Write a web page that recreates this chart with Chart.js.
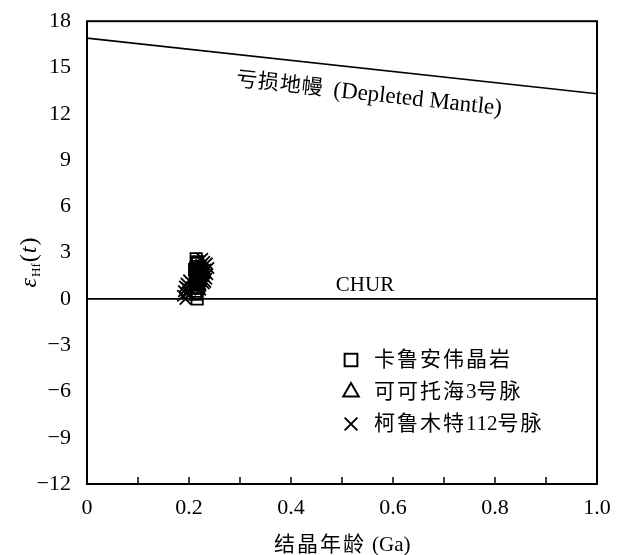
<!DOCTYPE html>
<html>
<head>
<meta charset="utf-8">
<script src="https://cdn.jsdelivr.net/npm/chart.js@4"></script>
<style>
  html, body { margin: 0; padding: 0; background: #fff; }
  #wrap { width: 623px; height: 555px; position: relative; }
</style>
</head>
<body>
<div id="wrap"><canvas id="hf-chart"></canvas></div>
<script>
( function () {
    'use strict';

    // 卡鲁安伟晶岩
    var kaluanAge = [ 0.214, 0.216, 0.213, 0.218, 0.215, 0.212, 0.217, 0.214, 0.219, 0.213, 0.216, 0.215, 0.218, 0.214, 0.211, 0.217, 0.220, 0.213 ];
    var kaluanEps = [ 2.6, 2.3, 2.0, 1.8, 1.5, 1.3, 1.1, 0.9, 0.7, 0.5, 0.0, 1.6, 2.1, 1.0, 1.9, 2.4, 1.2, 0.3 ];
    // 可可托海3号脉
    var keketuoAge = [ 0.215, 0.218, 0.220, 0.217, 0.222, 0.219, 0.216, 0.221, 0.223, 0.218, 0.214, 0.224 ];
    var keketuoEps = [ 0.6, 0.9, 1.2, 1.5, 1.8, 2.0, 1.1, 1.4, 1.7, 0.8, 1.3, 2.2 ];
    // 柯鲁木特112号脉
    var kelumuteAge = [ 0.188, 0.190, 0.192, 0.195, 0.198, 0.200, 0.228, 0.232, 0.235, 0.238, 0.230, 0.226, 0.234, 0.224, 0.236, 0.229, 0.222, 0.193, 0.226, 0.232, 0.202, 0.196 ];
    var kelumuteEps = [ 0.2, 0.5, 0.8, 1.0, 0.4, 1.2, 1.5, 1.9, 2.3, 2.0, 2.4, 1.8, 1.3, 2.2, 1.6, 1.0, 0.6, 0.0, 2.6, 1.1, 0.3, 0.7 ];
    // 亏损地幔 / CHUR 参考线
    var dmAge = [ 0, 1 ];
    var dmEps = [ 16.9, 13.3 ];
    var churAge = [ 0, 1 ];
    var churEps = [ 0, 0 ];
    var yTicks = [ 18, 15, 12, 9, 6, 3, 0, -3, -6, -9, -12 ];
    var xLabels = [ '0', '0.2', '0.4', '0.6', '0.8', '1.0' ];

    var serif = '"Liberation Serif", "Times New Roman", serif';
    var cjk = '"Liberation Serif", "Noto Sans CJK SC", serif';

    function pts( xs, ys ) {
        return xs.map( function ( x, i ) { return { x: x, y: ys[ i ] }; } );
    }

    var legendItems = [
        { text: '卡鲁安伟晶岩', style: 'rect' },
        { text: '可可托海3号脉', style: 'triangle' },
        { text: '柯鲁木特112号脉', style: 'crossRot' }
    ];

    function spaced( ctx, text, x, y, gap ) {
        for ( var i = 0; i < text.length; i++ ) {
            ctx.fillText( text[ i ], x, y );
            x += ctx.measureText( text[ i ] ).width + ( /[\u4e00-\u9fff]/.test( text[ i ] ) ? gap : 0 );
        }
        return x;
    }

    var extras = {
        id: 'extras',
        afterDraw: function ( chart ) {
            var ctx = chart.ctx, a = chart.chartArea;
            var xs = chart.scales.x, ys = chart.scales.y;
            ctx.save();
            // frame
            ctx.strokeStyle = '#000';
            ctx.lineWidth = 2;
            ctx.strokeRect( a.left, a.top, a.right - a.left, a.bottom - a.top );
            // inward x ticks
            ctx.lineWidth = 1.5;
            for ( var i = 1; i < 10; i++ ) {
                var px = xs.getPixelForValue( i / 10 );
                ctx.beginPath();
                ctx.moveTo( px, a.bottom );
                ctx.lineTo( px, a.bottom - 7 );
                ctx.stroke();
            }
            ctx.fillStyle = '#000';
            // DM label along the line
            var x1 = xs.getPixelForValue( 0 ), y1 = ys.getPixelForValue( dmEps[ 0 ] );
            var x2 = xs.getPixelForValue( 1 ), y2 = ys.getPixelForValue( dmEps[ 1 ] );
            var ang = Math.atan2( y2 - y1, x2 - x1 );
            ctx.save();
            ctx.translate( 236, 80 );
            ctx.rotate( ang );
            ctx.textBaseline = 'middle';
            ctx.textAlign = 'left';
            ctx.font = '21px ' + cjk;
            var w = spaced( ctx, '亏损地幔', 0, 0, 1 );
            ctx.font = '23px ' + serif;
            ctx.fillText( '(Depleted Mantle)', w + 10, 0 );
            ctx.restore();
            // CHUR
            ctx.font = '21px ' + serif;
            ctx.textAlign = 'center';
            ctx.textBaseline = 'middle';
            ctx.fillText( 'CHUR', 365, 285 );
            // legend
            legendItems.forEach( function ( it, k ) {
                var cy = 360 + k * 32;
                ctx.lineWidth = 2;
                ctx.fillStyle = 'rgba(0,0,0,0)';
                Chart.helpers.drawPoint( ctx, { pointStyle: it.style, radius: 9, rotation: 0, borderWidth: 2 }, 351, cy );
                ctx.fillStyle = '#000';
                ctx.font = '21px ' + cjk;
                ctx.textAlign = 'left';
                spaced( ctx, it.text, 374, cy, 2 );
            } );
            // y title: ε_Hf(t)
            ctx.save();
            ctx.translate( 28, 262 );
            ctx.rotate( -Math.PI / 2 );
            ctx.textBaseline = 'alphabetic';
            ctx.textAlign = 'left';
            var parts = [
                { t: 'ε', f: 'italic 24px ' + serif, dy: 0 },
                { t: 'Hf', f: '13px ' + serif, dy: 4 },
                { t: '(', f: '24px ' + serif, dy: 0 },
                { t: 't', f: 'italic 24px ' + serif, dy: 0 },
                { t: ')', f: '24px ' + serif, dy: 0 }
            ];
            var total = 0;
            parts.forEach( function ( p ) { ctx.font = p.f; total += ctx.measureText( p.t ).width + 1; } );
            var cx = -total / 2;
            parts.forEach( function ( p ) {
                ctx.font = p.f;
                ctx.fillText( p.t, cx, 8 + p.dy );
                cx += ctx.measureText( p.t ).width + 1;
            } );
            ctx.restore();
            // x title
            ctx.textBaseline = 'middle';
            ctx.font = '21px ' + cjk;
            ctx.textAlign = 'left';
            var xe = spaced( ctx, '结晶年龄', 274, 545, 2 );
            ctx.font = '21px ' + serif;
            ctx.fillText( '(Ga)', xe + 6, 545 );
            ctx.restore();
        }
    };

    function scatterSet( label, data, style ) {
        return {
            type: 'scatter',
            label: label,
            data: data,
            pointStyle: style,
            pointRadius: 8,
            pointHoverRadius: 8,
            borderColor: '#000',
            backgroundColor: 'rgba(0,0,0,0)',
            pointBorderWidth: 1.8
        };
    }

    function lineSet( data ) {
        return {
            type: 'line',
            data: data,
            borderColor: '#000',
            borderWidth: 1.6,
            pointRadius: 0,
            fill: false
        };
    }

    new Chart( document.getElementById( 'hf-chart' ), {
        data: {
            datasets: [
                lineSet( pts( dmAge, dmEps ) ),
                lineSet( pts( churAge, churEps ) ),
                scatterSet( legendItems[ 0 ].text, pts( kaluanAge, kaluanEps ), 'rect' ),
                scatterSet( legendItems[ 1 ].text, pts( keketuoAge, keketuoEps ), 'triangle' ),
                scatterSet( legendItems[ 2 ].text, pts( kelumuteAge, kelumuteEps ), 'crossRot' )
            ]
        },
        options: {
            responsive: true,
            maintainAspectRatio: false,
            animation: false,
            layout: { padding: { top: 11, right: 26, left: 0, bottom: 0 } },
            plugins: { legend: { display: false }, tooltip: { enabled: false } },
            scales: {
                x: {
                    type: 'linear',
                    min: 0,
                    max: 1,
                    afterFit: function ( s ) { s.height = 71; },
                    afterBuildTicks: function ( s ) {
                        s.ticks = xLabels.map( function ( v ) { return { value: parseFloat( v ) }; } );
                    },
                    grid: { display: false },
                    border: { display: false },
                    ticks: {
                        color: '#000',
                        padding: 3,
                        maxRotation: 0,
                        font: { family: serif, size: 22 },
                        callback: function ( v ) { return v === 0 ? '0' : v.toFixed( 1 ); }
                    }
                },
                y: {
                    type: 'linear',
                    min: -12,
                    max: 18,
                    afterFit: function ( s ) { s.width = 87; },
                    afterBuildTicks: function ( s ) {
                        s.ticks = yTicks.map( function ( v ) { return { value: v }; } );
                    },
                    grid: { display: false },
                    border: { display: false },
                    ticks: {
                        color: '#000',
                        padding: 8,
                        font: { family: serif, size: 22 },
                        callback: function ( v ) { return v < 0 ? '\u2212' + Math.abs( v ) : String( v ); }
                    }
                }
            }
        },
        plugins: [ extras ]
    } );
} )();
</script>
</body>
</html>
